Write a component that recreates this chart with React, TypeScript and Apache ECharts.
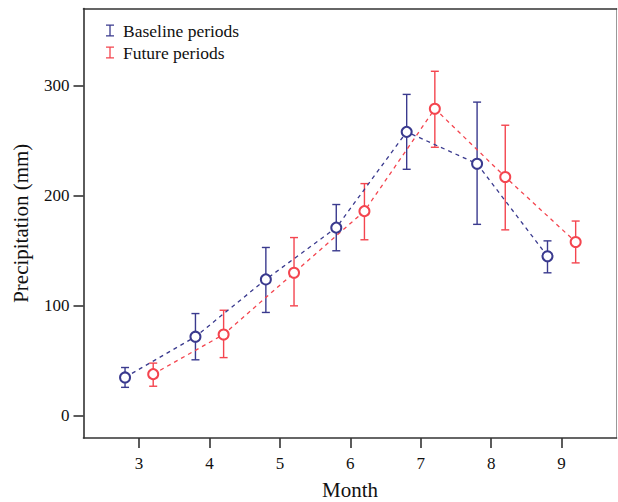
import React, { useEffect, useRef } from "react";
import * as echarts from "echarts";

// Months shown on the x axis
const months = [3, 4, 5, 6, 7, 8, 9];
// Tick values on the y axis (mm)
const yTicks = [0, 100, 200, 300];

// Baseline periods: mean precipitation (mm) with lower / upper error limits
const baselineMean = [35, 72, 124, 171, 258, 229, 145];
const baselineLow = [26, 51, 94, 150, 224, 174, 130];
const baselineHigh = [44, 93, 153, 192, 292, 285, 159];

// Future periods: mean precipitation (mm) with lower / upper error limits
const futureMean = [38, 74, 130, 186, 279, 217, 158];
const futureLow = [27, 53, 100, 160, 244, 169, 139];
const futureHigh = [48, 96, 162, 211, 313, 264, 177];

const BLUE = "#3a3a8e";
const RED = "#f4454f";
const FONT = "'Liberation Serif', 'DejaVu Serif', serif";
const SHIFT = 0.2;

const errorBarSeries = (
  name: string,
  color: string,
  shift: number,
  low: number[],
  high: number[]
) => ({
  name,
  type: "custom",
  itemStyle: { color },
  z: 3,
  data: months.map((m, i) => [m + shift, low[i], high[i]]),
  renderItem: (_params: any, api: any) => {
    const x = api.value(0);
    const lo = api.coord([x, api.value(1)]);
    const hi = api.coord([x, api.value(2)]);
    const half = 4;
    const style = { stroke: color, lineWidth: 1.4, fill: "none" };
    return {
      type: "group",
      children: [
        { type: "line", shape: { x1: lo[0], y1: lo[1], x2: hi[0], y2: hi[1] }, style },
        { type: "line", shape: { x1: hi[0] - half, y1: hi[1], x2: hi[0] + half, y2: hi[1] }, style },
        { type: "line", shape: { x1: lo[0] - half, y1: lo[1], x2: lo[0] + half, y2: lo[1] }, style },
      ],
    };
  },
});

const meanSeries = (name: string, color: string, shift: number, mean: number[]) => ({
  name,
  type: "line",
  z: 4,
  data: months.map((m, i) => [m + shift, mean[i]]),
  symbol: "emptyCircle",
  symbolSize: 10,
  showSymbol: true,
  lineStyle: { color, width: 1.3, type: [4, 4] },
  itemStyle: { color, borderColor: color, borderWidth: 1 },
});

const capIcon = "path://M0,0H8V1.3H0Z M3.35,0H4.65V12H3.35Z M0,10.7H8V12H0Z";

export default function App() {
  const ref = useRef<HTMLDivElement>(null);

  useEffect(() => {
    if (!ref.current) return;
    const chart = echarts.init(ref.current, undefined, { renderer: "svg" });
    const axisText = { color: "#111", fontFamily: FONT, fontSize: 17 };
    chart.setOption({
      animation: false,
      backgroundColor: "#fff",
      grid: {
        left: 83.5,
        top: 8.5,
        right: 1.5,
        bottom: 64,
        show: false,
        outerBoundsMode: "none",
        containLabel: false,
      },
      legend: {
        data: ["Baseline periods", "Future periods"],
        orient: "vertical",
        left: 101,
        top: 16.5,
        itemWidth: 8,
        itemHeight: 12,
        itemGap: 4,
        icon: capIcon,
        textStyle: { fontFamily: FONT, fontSize: 17.5, color: "#111", padding: [0, 0, 0, 4] },
        selectedMode: false,
      },
      xAxis: [
        {
          type: "value",
          min: 2.21,
          max: 9.78,
          name: "Month",
          nameLocation: "middle",
          nameGap: 43,
          nameTextStyle: { fontFamily: FONT, fontSize: 21, lineHeight: 18, color: "#111" },
          axisLine: { show: true, onZero: false, lineStyle: { color: "#333", width: 1.6 } },
          axisTick: {
            show: true,
            inside: false,
            length: 10,
            customValues: months,
            lineStyle: { color: "#333", width: 1.6 },
          },
          axisLabel: { ...axisText, margin: 17, customValues: months },
          splitLine: { show: false },
        },
        {
          type: "value",
          position: "top",
          min: 2.21,
          max: 9.78,
          axisLine: { show: true, onZero: false, lineStyle: { color: "#333", width: 1.6 } },
          axisTick: { show: false },
          axisLabel: { show: false },
          splitLine: { show: false },
        },
      ],
      yAxis: [
        {
          type: "value",
          min: -20,
          max: 370,
          name: "Precipitation (mm)",
          nameLocation: "middle",
          nameGap: 52,
          nameTextStyle: { fontFamily: FONT, fontSize: 21, color: "#111" },
          axisLine: { show: true, onZero: false, lineStyle: { color: "#333", width: 1.6 } },
          axisTick: {
            show: true,
            inside: false,
            length: 10,
            customValues: yTicks,
            lineStyle: { color: "#333", width: 1.6 },
          },
          axisLabel: { ...axisText, margin: 14, customValues: yTicks },
          splitLine: { show: false },
        },
        {
          type: "value",
          position: "right",
          min: -20,
          max: 370,
          axisLine: { show: true, onZero: false, lineStyle: { color: "#999", width: 1 } },
          axisTick: { show: false },
          axisLabel: { show: false },
          splitLine: { show: false },
        },
      ],
      series: [
        meanSeries("Baseline mean", BLUE, -SHIFT, baselineMean),
        meanSeries("Future mean", RED, SHIFT, futureMean),
        errorBarSeries("Baseline periods", BLUE, -SHIFT, baselineLow, baselineHigh),
        errorBarSeries("Future periods", RED, SHIFT, futureLow, futureHigh),
      ],
    });
    return () => chart.dispose();
  }, []);

  return (
    <div
      ref={ref}
      style={{ position: "fixed", left: 0, top: 0, width: 618, height: 502, background: "#fff" }}
    />
  );
}
